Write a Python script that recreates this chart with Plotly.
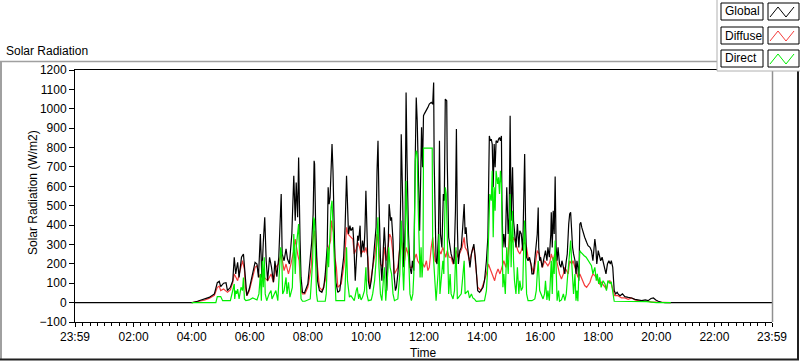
import plotly.graph_objects as go

# ---------------- data (time in minutes after 00:00, value in W/m2) ----------------
GLOBAL = [(-1,0),(242,0),(252,7),(266,17),(276,27),(287,45),(293,103),(297,110),(300,82),(306,100),(311,103),
(314,62),(320,79),(325,113),(328,234),(331,148),(335,208),(338,130),(343,234),(347,251),(349,190),(351,100),
(354,36),(359,70),(366,148),(371,208),(375,199),(378,130),(382,354),(385,130),(388,311),(391,440),(394,216),
(397,113),(401,234),(405,182),(409,105),(412,216),(416,134),(420,234),(425,560),(427,251),(431,216),(435,277),
(438,225),(442,199),(447,354),(451,655),(454,423),(456,620),(459,440),(461,749),(464,320),(466,130),(469,53),
(473,50),(480,96),(485,216),(488,311),(491,457),(493,732),(494,715),(496,423),(498,234),(500,113),(504,62),
(509,53),(513,79),(516,148),(520,285),(522,595),(524,508),(526,543),(528,680),(530,818),(532,680),(534,423),
(536,216),(538,105),(542,53),(546,62),(550,148),(554,234),(557,388),(560,655),(562,508),(564,354),(567,397),
(569,371),(573,388),(575,311),(578,113),(580,216),(583,345),(585,320),(588,397),(590,234),(593,320),(596,268),
(598,371),(600,577),(603,320),(605,113),(608,70),(611,113),(614,182),(618,285),(621,388),(623,680),(625,835),
(627,526),(630,234),(633,113),(636,320),(638,388),(641,251),(643,62),(645,182),(648,508),(651,423),(653,440),
(656,320),(658,148),(661,62),(663,79),(666,148),(670,285),(672,560),(673,869),(676,526),(678,182),(681,388),
(683,1084),(685,732),(688,354),(691,182),(694,148),(696,216),(699,165),(702,749),(704,1058),(706,938),(709,526),
(711,371),(713,629),(715,904),(717,698),(719,964),(721,975),(725,990),(728,1007),(731,1024),(735,1033),(738,1024),
(740,1136),(741,732),(743,320),(745,216),(747,199),(750,354),(752,835),(754,354),(757,285),(760,560),(762,526),
(764,1050),(767,1041),(768,732),(771,337),(774,285),(776,251),(780,216),(782,199),(785,474),(787,895),(789,388),
(791,199),(794,268),(797,285),(800,388),(803,508),(805,354),(807,388),(809,311),(812,234),(815,182),(818,251),
(820,268),(823,302),(826,234),(829,113),(831,62),(835,53),(838,62),(842,79),(845,113),(849,216),(852,337),
(855,860),(857,835),(859,843),(861,818),(863,595),(865,818),(867,698),(869,835),(872,826),(874,843),(876,852),
(878,835),(880,860),(881,526),(883,285),(885,354),(888,285),(891,595),(894,354),(896,440),(898,964),(900,423),
(903,698),(905,423),(907,354),(910,285),(913,405),(916,285),(918,371),(921,354),(924,268),(926,612),(928,766),
(930,388),(932,234),(935,216),(938,234),(941,199),(943,148),(946,148),(949,216),(952,285),(954,354),(956,491),
(957,285),(959,216),(961,234),(964,182),(967,216),(969,251),(971,268),(974,216),(976,285),(979,234),(982,354),
(983,466),(985,285),(987,474),(989,354),(991,650),(993,285),(995,216),(997,285),(1000,199),(1003,182),(1005,216),
(1008,182),(1011,148),(1014,216),(1016,251),(1019,405),(1021,457),(1023,466),(1025,354),(1027,285),(1029,251),
(1032,216),(1034,148),(1036,216),(1038,182),(1040,113),(1042,405),(1044,414),(1046,388),(1049,354),(1052,337),
(1056,311),(1059,294),(1063,285),(1066,268),(1069,216),(1073,328),(1075,285),(1077,199),(1080,268),(1083,234),
(1085,216),(1088,234),(1091,199),(1094,182),(1096,148),(1099,199),(1102,216),(1105,199),(1107,216),(1110,182),
(1113,62),(1116,45),(1119,53),(1121,45),(1125,36),(1130,45),(1135,31),(1142,27),(1149,24),(1156,17),(1163,14),
(1170,10),(1177,14),(1183,10),(1189,21),(1194,24),(1199,14),(1204,7),(1211,2),(1218,0),(1439,0)]

DIFFUSE = [(240,0),(252,5),(266,12),(276,22),(287,38),(293,79),(297,85),(300,62),(306,70),(314,53),(320,65),
(325,105),(328,148),(335,113),(342,182),(345,216),(349,173),(351,80),(354,36),(359,60),(366,130),(371,182),
(375,190),(380,130),(383,148),(387,113),(390,130),(397,113),(404,148),(409,105),(414,182),(419,199),(425,251),
(428,216),(431,165),(435,199),(440,148),(445,199),(451,268),(454,328),(456,285),(459,250),(462,216),(464,130),
(466,62),(469,45),(474,45),(480,79),(487,182),(490,320),(494,371),(496,285),(499,216),(504,79),(510,62),(516,113),
(520,234),(523,285),(527,320),(529,423),(531,388),(534,354),(536,234),(539,182),(542,79),(549,96),(552,148),
(556,216),(560,388),(563,354),(566,346),(569,337),(573,328),(576,251),(580,277),(583,311),(587,285),(590,251),
(594,268),(597,260),(600,285),(604,234),(608,79),(614,182),(619,251),(623,354),(626,285),(630,199),(635,182),
(638,285),(642,216),(645,285),(649,354),(652,337),(656,251),(659,148),(666,182),(670,285),(673,337),(676,268),
(680,216),(683,285),(687,251),(691,182),(695,182),(699,216),(704,251),(707,216),(711,199),(714,208),(718,199),
(721,182),(725,216),(728,165),(731,182),(735,285),(738,337),(740,285),(743,216),(745,208),(749,234),(752,268),
(755,251),(759,285),(762,251),(765,234),(768,268),(772,234),(776,234),(780,199),(783,234),(787,268),(790,234),
(794,260),(798,277),(803,337),(805,285),(809,268),(814,216),(818,251),(821,285),(824,268),(828,148),(831,79),
(838,62),(845,113),(849,148),(853,199),(858,165),(862,130),(866,113),(869,148),(873,173),(877,148),(881,182),
(885,216),(889,182),(894,251),(897,371),(899,320),(902,311),(905,337),(908,320),(911,285),(914,268),(918,251),
(921,268),(925,302),(928,311),(932,285),(935,234),(939,216),(943,182),(947,148),(951,216),(954,268),(958,251),
(961,216),(965,182),(969,216),(973,199),(976,190),(980,208),(983,251),(987,216),(990,251),(994,216),(997,182),
(1000,148),(1004,122),(1008,148),(1011,182),(1014,165),(1018,148),(1021,216),(1025,199),(1028,216),(1032,182),
(1035,148),(1038,130),(1042,148),(1045,130),(1049,105),(1052,88),(1056,79),(1059,88),(1063,105),(1066,130),
(1069,148),(1073,139),(1076,130),(1080,113),(1083,96),(1087,105),(1090,93),(1094,79),(1097,70),(1100,105),
(1104,113),(1107,96),(1111,62),(1114,36),(1121,36),(1128,24),(1135,24),(1142,17),(1149,24),(1156,14),(1163,10),
(1170,7),(1177,7),(1183,7),(1190,3),(1197,3),(1204,2),(1211,0),(1230,0)]

DIRECT = [(240,0),(290,0),(293,31),(300,31),(304,10),(320,10),(328,96),(329,19),(331,62),(333,45),(335,70),
(338,19),(342,79),(345,62),(347,130),(349,19),(352,10),(359,14),(366,24),(371,19),(375,14),(379,45),(382,148),
(384,10),(386,216),(388,79),(390,234),(392,45),(395,10),(400,45),(404,62),(406,19),(410,45),(414,62),(418,10),
(421,148),(424,285),(426,251),(428,45),(431,62),(435,130),(437,45),(440,105),(443,28),(446,62),(448,79),(451,354),
(454,148),(456,285),(459,388),(461,405),(464,148),(466,19),(469,7),(474,7),(485,19),(490,216),(492,440),(494,423),
(496,216),(498,45),(500,7),(516,7),(518,45),(521,285),(523,182),(525,354),(528,491),(530,526),(532,388),(535,216),
(538,10),(556,10),(558,113),(560,285),(562,113),(564,45),(566,28),(569,36),(573,24),(576,10),(580,62),(582,79),
(585,19),(587,45),(590,14),(593,28),(597,62),(600,182),(602,45),(605,10),(611,14),(614,45),(618,113),(621,216),
(623,354),(625,440),(627,182),(630,45),(633,10),(636,148),(638,182),(641,10),(645,148),(647,285),(650,182),
(653,148),(656,45),(659,10),(666,19),(670,148),(672,285),(673,423),(676,182),(678,62),(681,285),(683,629),
(685,457),(688,216),(691,45),(694,10),(697,45),(699,148),(702,732),(704,784),(706,766),(708,491),(710,285),
(712,130),(714,285),(716,130),(718,216),(719,797),(737,797),(738,285),(740,216),(743,62),(745,10),(749,148),
(751,354),(753,45),(756,113),(759,216),(761,148),(764,595),(766,560),(768,285),(771,45),(774,148),(776,45),
(780,19),(783,62),(786,285),(789,19),(797,45),(800,130),(803,216),(805,45),(811,62),(814,24),(818,45),(821,24),
(824,19),(828,7),(845,10),(849,62),(851,148),(854,388),(856,560),(859,526),(861,680),(863,337),(865,595),
(867,474),(869,680),(872,612),(874,646),(876,560),(878,680),(880,612),(881,285),(883,79),(885,148),(888,45),
(891,285),(894,148),(896,285),(898,560),(900,182),(903,474),(905,216),(907,113),(910,45),(913,182),(916,45),
(918,113),(921,62),(924,79),(926,285),(928,423),(930,216),(932,45),(935,10),(943,10),(949,19),(952,62),(954,148),
(956,216),(959,62),(962,45),(966,19),(969,45),(971,113),(974,14),(976,62),(979,10),(982,182),(983,216),(985,45),
(987,234),(989,148),(991,320),(993,182),(995,10),(998,62),(1000,7),(1004,14),(1008,45),(1011,10),(1014,45),
(1016,113),(1019,216),(1021,285),(1023,320),(1025,216),(1027,113),(1029,45),(1032,148),(1034,10),(1036,62),
(1038,7),(1040,148),(1042,268),(1044,260),(1047,251),(1051,242),(1055,234),(1059,216),(1063,199),(1066,190),
(1069,148),(1073,182),(1076,113),(1078,148),(1081,96),(1083,130),(1086,79),(1090,113),(1094,96),(1097,62),
(1100,113),(1104,100),(1107,105),(1110,62),(1113,7),(1180,5),(1190,3),(1200,0),(1230,0)]

X_TICK_VALUES = [-1, 120, 240, 360, 480, 600, 720, 840, 960, 1080, 1200, 1320, 1439]
X_TICK_LABELS = ["23:59", "02:00", "04:00", "06:00", "08:00", "10:00", "12:00",
                 "14:00", "16:00", "18:00", "20:00", "22:00", "23:59"]
Y_TICK_VALUES = [-100, 0, 100, 200, 300, 400, 500, 600, 700, 800, 900, 1000, 1100, 1200]
SERIES_NAMES = ["Global", "Diffuse", "Direct"]
SERIES_COLORS = ["#000000", "#F53C3C", "#00EE00"]

# ---------------- layout geometry (pixels) ----------------
W, H = 800, 361
PL, PR, PT, PB = 75, 772, 70, 322          # plot area edges
FONT = "Liberation Sans, Arial, sans-serif"


def px(x):
    return (x - PL) / (PR - PL)


def py(y):
    return (PB - y) / (PB - PT)


fig = go.Figure()
series = {"Global": GLOBAL, "Diffuse": DIFFUSE, "Direct": DIRECT}
for name in ["Diffuse", "Global", "Direct"]:
    t, v = zip(*series[name])
    fig.add_trace(go.Scatter(x=list(t), y=list(v), mode="lines", name=name,
                             line=dict(color=SERIES_COLORS[SERIES_NAMES.index(name)], width=1.2),
                             showlegend=False, hoverinfo="skip"))

shapes = []
# outer panel frame (sunken look)
shapes.append(dict(type="line", xref="paper", yref="paper", x0=px(0), x1=px(717), y0=py(61.5), y1=py(61.5),
                   line=dict(color="#A0A0A0", width=1.5)))
shapes.append(dict(type="line", xref="paper", yref="paper", x0=px(1), x1=px(1), y0=py(61), y1=py(359),
                   line=dict(color="#A0A0A0", width=2)))
shapes.append(dict(type="line", xref="paper", yref="paper", x0=px(0), x1=px(799), y0=py(359.5), y1=py(359.5),
                   line=dict(color="#202020", width=2)))
shapes.append(dict(type="line", xref="paper", yref="paper", x0=px(798), x1=px(798), y0=py(61), y1=py(360),
                   line=dict(color="#202020", width=2)))
# right border of plot area (gray)
shapes.append(dict(type="line", xref="paper", yref="paper", x0=px(772.5), x1=px(772.5), y0=py(PT), y1=py(PB),
                   line=dict(color="#909090", width=1.5)))
# legend panel
shapes.append(dict(type="rect", xref="paper", yref="paper", x0=px(717), x1=px(801), y0=py(71), y1=py(-1),
                   fillcolor="white", line=dict(color="#B0B0B0", width=1), layer="above"))
annotations = []
row_tops = [3, 27, 50]
for i, name in enumerate(SERIES_NAMES):
    top = row_tops[i]
    shapes.append(dict(type="rect", xref="paper", yref="paper", x0=px(721), x1=px(763),
                       y0=py(top + 17), y1=py(top), fillcolor="white",
                       line=dict(color="black", width=1), layer="above"))
    shapes.append(dict(type="rect", xref="paper", yref="paper", x0=px(768), x1=px(799),
                       y0=py(top + 17), y1=py(top), fillcolor="white",
                       line=dict(color="black", width=1), layer="above"))
    zz = [(770, top + 14), (778, top + 4), (786, top + 14), (794, top + 4)]
    path = "M " + " L ".join(f"{px(a)},{py(b)}" for a, b in zz)
    shapes.append(dict(type="path", xref="paper", yref="paper", path=path,
                       line=dict(color=SERIES_COLORS[i], width=1), layer="above"))
    annotations.append(dict(text=name, xref="paper", yref="paper", x=px(723), y=py(top + 8.5),
                            xanchor="left", yanchor="middle", showarrow=False,
                            font=dict(family=FONT, size=12, color="black")))

annotations.append(dict(text="Solar Radiation", xref="paper", yref="paper", x=px(4), y=py(51),
                        xanchor="left", yanchor="middle", showarrow=False,
                        font=dict(family=FONT, size=12, color="black")))
annotations.append(dict(text="Solar Radiation (W/m2)", xref="paper", yref="paper", x=px(33), y=py(193),
                        xanchor="center", yanchor="middle", textangle=-90, showarrow=False,
                        font=dict(family=FONT, size=12, color="black")))
annotations.append(dict(text="Time", xref="paper", yref="paper", x=px(423), y=py(353),
                        xanchor="center", yanchor="middle", showarrow=False,
                        font=dict(family=FONT, size=12, color="black")))

fig.update_layout(
    width=W, height=H,
    margin=dict(l=PL, r=W - PR, t=PT, b=H - PB, pad=0),
    paper_bgcolor="white", plot_bgcolor="white",
    font=dict(family=FONT, size=12, color="black"),
    shapes=shapes, annotations=annotations, showlegend=False,
)
fig.update_xaxes(range=[-1, 1439], tickmode="array", tickvals=X_TICK_VALUES, ticktext=X_TICK_LABELS,
                 ticks="outside", ticklen=4, tickcolor="black", showgrid=False, zeroline=False,
                 showline=True, linecolor="black", linewidth=1, mirror=True,
                 tickfont=dict(family=FONT, size=12, color="black"),
                 minor=dict(tickmode="linear", tick0=0, dtick=15, ticks="outside", ticklen=3,
                            tickcolor="black", showgrid=False))
fig.update_yaxes(range=[-100, 1200], tickmode="array", tickvals=Y_TICK_VALUES,
                 ticks="outside", ticklen=5, tickcolor="black", showgrid=False, zeroline=False,
                 showline=True, linecolor="black", linewidth=1,
                 tickfont=dict(family=FONT, size=12, color="black"))

fig.write_html("out.html", config={"displayModeBar": False},
               post_script="document.body.style.margin='0';document.body.style.overflow='hidden';")
